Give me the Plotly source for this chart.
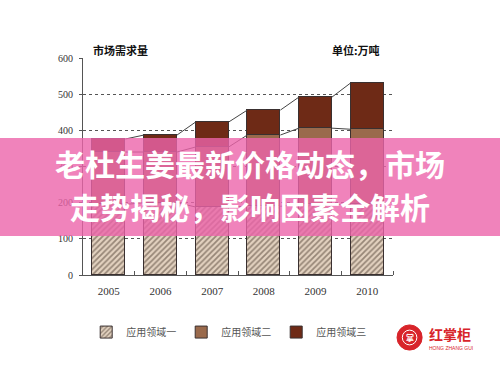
import plotly.graph_objects as go

years = ["2005", "2006", "2007", "2008", "2009", "2010"]
series_names = ["应用领域一", "应用领域二", "应用领域三"]
s1 = [195, 200, 188, 190, 195, 195]
s2 = [145, 140, 166, 197, 211, 208]
s3 = [36, 47, 69, 69, 86, 128]
y_ticks = [0, 100, 200, 300, 400, 500, 600]

xs = list(range(len(years)))
bw = 0.64

fig = go.Figure()
fig.add_trace(go.Bar(
    x=xs, y=s1, width=bw, name=series_names[0],
    marker=dict(color="#e3d2c0", line=dict(color="#3a3030", width=1),
                pattern=dict(shape="/", fgcolor="#4a3a2e", bgcolor="#e3d2c0", size=4, solidity=0.45)),
))
fig.add_trace(go.Bar(
    x=xs, y=s2, width=bw, name=series_names[1],
    marker=dict(color="#9a6a4c", line=dict(color="#3a3030", width=1)),
))
fig.add_trace(go.Bar(
    x=xs, y=s3, width=bw, name=series_names[2],
    marker=dict(color="#6e2a16", line=dict(color="#3a3030", width=1)),
))

# connector lines between stacked levels
levels = []
cum = [0] * len(years)
for s in (s1, s2, s3):
    cum = [c + v for c, v in zip(cum, s)]
    levels.append(list(cum))
for lv in levels:
    cx, cy = [], []
    for i in range(len(years) - 1):
        cx += [xs[i] + bw / 2, xs[i + 1] - bw / 2, None]
        cy += [lv[i], lv[i + 1], None]
    fig.add_trace(go.Scatter(x=cx, y=cy, mode="lines", line=dict(color="#444444", width=1),
                             showlegend=False, hoverinfo="skip"))

fig.update_layout(
    width=500, height=375,
    margin=dict(l=83, r=107, t=58, b=100),
    paper_bgcolor="white", plot_bgcolor="white",
    barmode="stack", bargap=0,
    showlegend=True,
    legend=dict(orientation="h", x=0.47, xanchor="center", y=-0.263, yanchor="middle",
                font=dict(family="Noto Sans CJK SC", size=10, color="#555555"),
                itemwidth=30, traceorder="normal"),
    xaxis=dict(range=[-0.5, 5.5], tickvals=xs, ticktext=years, ticks="",
               showline=True, linecolor="#555555", linewidth=1, showgrid=False, zeroline=False,
               ticklabelstandoff=6,
               tickfont=dict(family="Liberation Serif", size=11, color="#333333"),
               minor=dict(tickvals=[0.5, 1.5, 2.5, 3.5, 4.5, 5.5], ticks="inside", ticklen=4,
                          tickcolor="#555555", showgrid=False)),
    yaxis=dict(range=[0, 600], tickvals=y_ticks, ticks="outside", ticklen=3, tickcolor="#555555",
               showline=True, linecolor="#555555", linewidth=1, ticklabelstandoff=4,
               showgrid=True, gridcolor="#555555", griddash="dot", gridwidth=1, zeroline=False,
               tickfont=dict(family="Liberation Serif", size=10, color="#333333")),
)

# titles
fig.add_annotation(text="<b>市场需求量</b>", xref="paper", yref="paper", x=0.025, y=1.037,
                   xanchor="left", yanchor="middle", showarrow=False,
                   font=dict(family="Noto Sans CJK SC", size=11, color="#111111"))
fig.add_annotation(text="<b>单位:万吨</b>", xref="paper", yref="paper", x=0.965, y=1.037,
                   xanchor="right", yanchor="middle", showarrow=False,
                   font=dict(family="Noto Sans CJK SC", size=11, color="#111111"))

# pink banner
fig.add_shape(type="rect", xref="paper", yref="paper", x0=-0.3, x1=1.4, y0=0.180, y1=0.631,
              fillcolor="rgba(236,100,170,0.8)", line=dict(width=0), layer="above")
fig.add_annotation(text="<b>老杜生姜最新价格动态，市场</b>", xref="paper", yref="paper",
                   x=0.538, y=0.516, xanchor="center", yanchor="middle", showarrow=False,
                   font=dict(family="Noto Sans CJK SC", size=30, color="white"))
fig.add_annotation(text="<b>走势揭秘，影响因素全解析</b>", xref="paper", yref="paper",
                   x=0.538, y=0.317, xanchor="center", yanchor="middle", showarrow=False,
                   font=dict(family="Noto Sans CJK SC", size=30, color="white"))

# logo
fig.add_shape(type="circle", xref="paper", yref="paper", x0=1.013, x1=1.094, y0=-0.346, y1=-0.230,
              fillcolor="#d8242a", line=dict(color="#d8242a", width=1))
fig.add_shape(type="circle", xref="paper", yref="paper", x0=1.03, x1=1.077, y0=-0.322, y1=-0.254,
              fillcolor="rgba(0,0,0,0)", line=dict(color="white", width=1))
fig.add_annotation(text="<b>掌</b>", xref="paper", yref="paper", x=1.0535, y=-0.288,
                   xanchor="center", yanchor="middle", showarrow=False,
                   font=dict(family="Noto Sans CJK SC", size=8, color="white"))
fig.add_annotation(text="<b>红掌柜</b>", xref="paper", yref="paper", x=1.11, y=-0.27,
                   xanchor="left", yanchor="middle", showarrow=False,
                   font=dict(family="Noto Sans CJK SC", size=14, color="#d8242a"))
fig.add_annotation(text="HONG ZHANG GUI", xref="paper", yref="paper", x=1.11, y=-0.336,
                   xanchor="left", yanchor="middle", showarrow=False,
                   font=dict(family="Liberation Sans", size=5, color="#d8242a"))

fig.write_html("out.html", config={"displayModeBar": False},
               post_script="document.body.style.margin='0';")
